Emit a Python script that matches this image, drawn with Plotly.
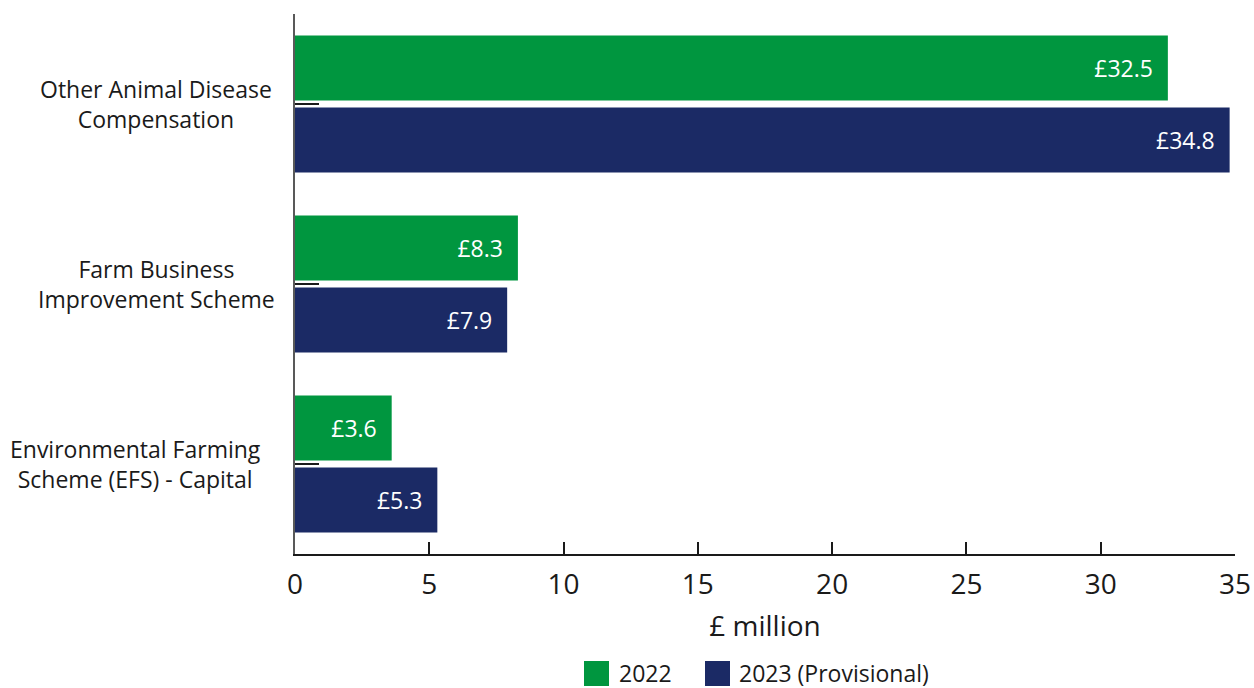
import plotly.graph_objects as go

categories = ["Other Animal Disease<br>Compensation",
              "Farm Business<br>Improvement Scheme",
              "Environmental Farming<br>Scheme (EFS) - Capital"]
cat_keys = ["ADC", "FBIS", "EFS"]
label_centers_px = [156, 156, 135]
values_2022 = [32.5, 8.3, 3.6]
values_2023 = [34.8, 7.9, 5.3]
series_names = ["2022", "2023 (Provisional)"]
colors = ["#00963f", "#1b2a65"]
x_ticks = [0, 5, 10, 15, 20, 25, 30, 35]

FONT = "Open Sans"
TXT = "#1a1a1a"
W, H = 1254, 688
# plot area in page pixels
PX0, PX1, PY0, PY1 = 295, 1235, 14, 554
L, R = PX0, W - PX1
T, B = PY0, H - PY1
PW = PX1 - PX0
PH = PY1 - PY0

def px_x(p):
    return (p - PX0) / PW

def px_y(p):
    return (PY1 - p) / PH

fig = go.Figure()
for name, vals, col in zip(series_names, [values_2022, values_2023], colors):
    fig.add_trace(go.Bar(
        y=cat_keys, x=vals, name=name, orientation="h",
        marker=dict(color=col, line=dict(width=0)),
        text=[f"£{v:.1f}\u00a0\u00a0" for v in vals],
        textposition="inside", insidetextanchor="end",
        textfont=dict(color="white", size=23, family=FONT),
        showlegend=False,
    ))

annotations = []
for key, lab, cx in zip(cat_keys, categories, label_centers_px):
    annotations.append(dict(
        x=px_x(cx), xref="paper", y=key, yref="y",
        text=lab, showarrow=False, xanchor="center", yanchor="middle",
        align="center", font=dict(size=23, family=FONT, color=TXT),
    ))

# manual legend
shapes = []
leg_boxes = [(584, 609), (705, 730)]
leg_text_x = [617, 737]
for (x0, x1), tx, col, name in zip(leg_boxes, leg_text_x, colors, series_names):
    shapes.append(dict(type="rect", xref="paper", yref="paper",
                       x0=px_x(x0), x1=px_x(x1), y0=px_y(661), y1=px_y(686),
                       fillcolor=col, line=dict(width=0)))
    annotations.append(dict(x=px_x(tx), xref="paper", y=px_y(673), yref="paper",
                            text=name, showarrow=False, xanchor="left",
                            yanchor="middle",
                            font=dict(size=23, family=FONT, color=TXT)))

fig.update_layout(
    width=W, height=H,
    margin=dict(l=L, r=R, t=T, b=B, autoexpand=False),
    paper_bgcolor="white", plot_bgcolor="white",
    barmode="group", bargap=0.2, bargroupgap=0.097,
    font=dict(family=FONT, color=TXT),
    xaxis=dict(range=[0, 35], tickvals=x_ticks, showgrid=False, zeroline=False,
               showline=True, linecolor="#1a1a1a", linewidth=2,
               ticks="inside", ticklen=12, tickwidth=2, tickcolor="#1a1a1a",
               tickfont=dict(size=28, family=FONT, color=TXT),
               ticklabelstandoff=4,
               title=dict(text="£ million", font=dict(size=28, family=FONT, color=TXT),
                          standoff=16)),
    yaxis=dict(categoryorder="array", categoryarray=cat_keys, autorange="reversed",
               showgrid=False, zeroline=False, showticklabels=False,
               showline=True, linecolor="#595959", linewidth=2,
               ticks="inside", ticklen=24, tickwidth=2, tickcolor="#1a1a1a"),
    annotations=annotations, shapes=shapes,
)
fig.write_html("out.html",
               config={"displayModeBar": False},
               post_script="document.body.style.margin='0';document.body.style.overflow='hidden';")
